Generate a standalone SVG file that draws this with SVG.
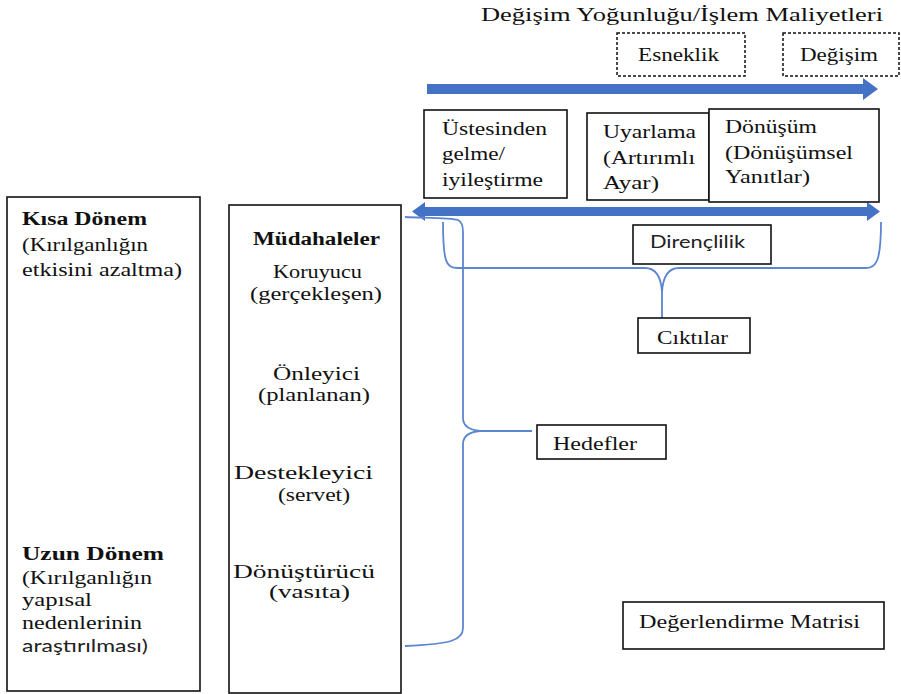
<svg xmlns="http://www.w3.org/2000/svg" width="901" height="694" viewBox="0 0 901 694">
<style>
.box{fill:#fff;stroke:#111;stroke-width:1.6}
.dash{fill:#fff;stroke:#111;stroke-width:1.5;stroke-dasharray:3 2}
.arrow{fill:#4472C4}
.brace{fill:none;stroke:#5b86d0;stroke-width:1.8}
</style>
<rect width="901" height="694" fill="#fff"/>

<g id="title"><text font-family="Liberation Serif" font-size="18" fill="#111" x="481" y="21" textLength="402" lengthAdjust="spacingAndGlyphs">Değişim Yoğunluğu/İşlem Maliyetleri</text></g>

<g id="esneklik"><rect class="dash" x="617" y="33" width="128" height="43"/><text font-family="Liberation Serif" font-size="18" fill="#111" x="638" y="61" textLength="81" lengthAdjust="spacingAndGlyphs">Esneklik</text></g>
<g id="degisim"><rect class="dash" x="783" y="33" width="116" height="43"/><text font-family="Liberation Serif" font-size="18" fill="#111" x="800" y="61" textLength="78" lengthAdjust="spacingAndGlyphs">Değişim</text></g>

<g id="connectors">
<path class="arrow" d="M427,84 L863,84 L863,78 L878,89 L863,100 L863,94 L427,94 Z"/>
<path class="arrow" d="M412,211.5 L425,202 L425,207 L867,207 L867,202 L880,211.5 L867,221 L867,216 L425,216 L425,221 Z"/>
<path class="arrow" d="M93,297 L107,297 L107,517 L115,517 L99,533 L83,517 L93,517 Z"/>
<path class="brace" d="M443,222 C443,262 446,268 458,268 L645,268 C656,268 661,276 662,292 C663,276 668,268 679,268 L866,268 C876,268 881,262 881,222"/>
<path class="brace" d="M662,290 L662,318"/>
<path class="brace" d="M405,217 C430,218 452,218 458,220 C462,222 463,226 463,232 L463,418 C463,426 470,430 480,431 L532,431 M480,431 C470,432 463,436 463,444 L463,628 C463,640 452,644 405,646"/>
</g>

<g id="ustesinden"><rect class="box" x="424" y="110" width="143" height="88"/>
<text font-family="Liberation Serif" font-size="18" fill="#111" x="442" y="135" textLength="105" lengthAdjust="spacingAndGlyphs">Üstesinden</text>
<text font-family="Liberation Serif" font-size="18" fill="#111" x="442" y="160" textLength="63" lengthAdjust="spacingAndGlyphs">gelme/</text>
<text font-family="Liberation Serif" font-size="18" fill="#111" x="442" y="186" textLength="101" lengthAdjust="spacingAndGlyphs">iyileştirme</text></g>

<g id="uyarlama"><rect class="box" x="587" y="113" width="122" height="87"/>
<text font-family="Liberation Serif" font-size="18" fill="#111" x="603" y="138" textLength="93" lengthAdjust="spacingAndGlyphs">Uyarlama</text>
<text font-family="Liberation Serif" font-size="18" fill="#111" x="603" y="164" textLength="92" lengthAdjust="spacingAndGlyphs">(Artırımlı</text>
<text font-family="Liberation Serif" font-size="18" fill="#111" x="603" y="189" textLength="56" lengthAdjust="spacingAndGlyphs">Ayar)</text></g>

<g id="donusum"><rect class="box" x="709" y="109" width="170" height="93"/>
<text font-family="Liberation Serif" font-size="18" fill="#111" x="725" y="133" textLength="92" lengthAdjust="spacingAndGlyphs">Dönüşüm</text>
<text font-family="Liberation Serif" font-size="18" fill="#111" x="725" y="159" textLength="128" lengthAdjust="spacingAndGlyphs">(Dönüşümsel</text>
<text font-family="Liberation Serif" font-size="18" fill="#111" x="725" y="183" textLength="85" lengthAdjust="spacingAndGlyphs">Yanıtlar)</text></g>

<g id="direnclilik"><rect class="box" x="633" y="225" width="138" height="39"/>
<text font-family="Lato" font-size="17" fill="#222" x="650" y="248" textLength="95" lengthAdjust="spacingAndGlyphs">Dirençlilik</text></g>

<g id="ciktilar"><rect class="box" x="638" y="318" width="112" height="35"/>
<text font-family="Liberation Serif" font-size="18" fill="#111" x="657" y="344" textLength="71" lengthAdjust="spacingAndGlyphs">Cıktılar</text></g>

<g id="hedefler"><rect class="box" x="537" y="425" width="129" height="34"/>
<text font-family="Liberation Serif" font-size="18" fill="#111" x="553" y="450" textLength="84" lengthAdjust="spacingAndGlyphs">Hedefler</text></g>

<g id="matris"><rect class="box" x="623" y="602" width="261" height="47"/>
<text font-family="Liberation Serif" font-size="18" fill="#111" x="639" y="628" textLength="221" lengthAdjust="spacingAndGlyphs">Değerlendirme Matrisi</text></g>

<g id="donem"><rect class="box" x="7" y="197" width="193" height="494"/>
<text font-family="Liberation Serif" font-size="18" font-weight="bold" fill="#111" x="22" y="225" textLength="125" lengthAdjust="spacingAndGlyphs">Kısa Dönem</text>
<text font-family="Liberation Serif" font-size="18" fill="#111" x="22" y="251" textLength="126" lengthAdjust="spacingAndGlyphs">(Kırılganlığın</text>
<text font-family="Liberation Serif" font-size="18" fill="#111" x="22" y="276" textLength="160" lengthAdjust="spacingAndGlyphs">etkisini azaltma)</text>
<text font-family="Liberation Serif" font-size="18" font-weight="bold" fill="#111" x="22" y="560" textLength="142" lengthAdjust="spacingAndGlyphs">Uzun Dönem</text>
<text font-family="Liberation Serif" font-size="18" fill="#111" x="22" y="584" textLength="130" lengthAdjust="spacingAndGlyphs">(Kırılganlığın</text>
<text font-family="Liberation Serif" font-size="18" fill="#111" x="22" y="606" textLength="70" lengthAdjust="spacingAndGlyphs">yapısal</text>
<text font-family="Liberation Serif" font-size="18" fill="#111" x="22" y="629" textLength="120" lengthAdjust="spacingAndGlyphs">nedenlerinin</text>
<text font-family="Lato" font-size="17" fill="#222" x="22" y="652" textLength="126" lengthAdjust="spacingAndGlyphs">araştırılması)</text></g>

<g id="mudahaleler"><rect class="box" x="229" y="205" width="172" height="488"/>
<text font-family="Liberation Serif" font-size="18" font-weight="bold" fill="#111" x="253" y="245" textLength="127" lengthAdjust="spacingAndGlyphs">Müdahaleler</text>
<text font-family="Liberation Serif" font-size="18" fill="#111" x="273" y="278" textLength="89" lengthAdjust="spacingAndGlyphs">Koruyucu</text>
<text font-family="Liberation Serif" font-size="18" fill="#111" x="250" y="300" textLength="132" lengthAdjust="spacingAndGlyphs">(gerçekleşen)</text>
<text font-family="Liberation Serif" font-size="18" fill="#111" x="273" y="380" textLength="87" lengthAdjust="spacingAndGlyphs">Önleyici</text>
<text font-family="Liberation Serif" font-size="18" fill="#111" x="258" y="401" textLength="112" lengthAdjust="spacingAndGlyphs">(planlanan)</text>
<text font-family="Liberation Serif" font-size="18" fill="#111" x="234" y="479" textLength="139" lengthAdjust="spacingAndGlyphs">Destekleyici</text>
<text font-family="Liberation Serif" font-size="18" fill="#111" x="278" y="501" textLength="72" lengthAdjust="spacingAndGlyphs">(servet)</text>
<text font-family="Liberation Serif" font-size="18" fill="#111" x="233" y="578" textLength="142" lengthAdjust="spacingAndGlyphs">Dönüştürücü</text>
<text font-family="Liberation Serif" font-size="18" fill="#111" x="269" y="598" textLength="81" lengthAdjust="spacingAndGlyphs">(vasıta)</text></g>
</svg>
